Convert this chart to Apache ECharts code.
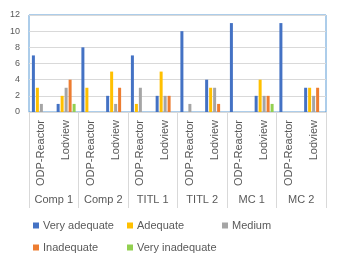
<!DOCTYPE html>
<html>
<head>
<meta charset="utf-8">
<script src="https://cdn.jsdelivr.net/npm/echarts@6/dist/echarts.min.js"></script>
<style>
html,body{margin:0;padding:0;background:#fff;}
#chart{width:341px;height:266px;}
</style>
</head>
<body>
<div id="chart"></div>
<script>
var groups = ['Comp 1', 'Comp 2', 'TITL 1', 'TITL 2', 'MC 1', 'MC 2'];
var tools = ['ODP-Reactor', 'Lodview'];
var subCategories = [];
groups.forEach(function(){ tools.forEach(function(t){ subCategories.push(t); }); });

var seriesNames = ['Very adequate', 'Adequate', 'Medium', 'Inadequate', 'Very inadequate'];
var veryAdequate   = [7, 1, 8, 2, 7, 2, 10, 4, 11, 2, 11, 3];
var adequate       = [3, 2, 3, 5, 1, 5, 0, 3, 0, 4, 0, 3];
var medium         = [1, 3, 0, 1, 3, 2, 1, 3, 0, 2, 0, 2];
var inadequate     = [0, 4, 0, 3, 0, 2, 0, 1, 0, 2, 0, 3];
var veryInadequate = [0, 1, 0, 0, 0, 0, 0, 0, 0, 1, 0, 0];
var yTicks = [0, 2, 4, 6, 8, 10, 12];

var colors = ['#4472C4', '#FFC000', '#A5A5A5', '#ED7D31', '#92D050'];
var values = [veryAdequate, adequate, medium, inadequate, veryInadequate];
var font = 'Liberation Sans, Arial, sans-serif';
var textColor = '#595959';

var series = seriesNames.map(function(n, i){
  return {
    name: n, type: 'bar', data: values[i],
    xAxisIndex: 0, yAxisIndex: 0,
    barWidth: 3, barGap: '33%',
    itemStyle: {color: colors[i]},
    animation: false
  };
});

var legendPos = [
  {left: 33, top: 220},
  {left: 127, top: 220},
  {left: 222, top: 220},
  {left: 33, top: 242},
  {left: 127, top: 242}
];
var legends = seriesNames.map(function(n, i){
  return {
    data: [n], left: legendPos[i].left, top: legendPos[i].top,
    itemWidth: 6, itemHeight: 6, itemGap: 0, icon: 'rect',
    textStyle: {fontSize: 11, color: textColor, fontFamily: font, padding: [0,0,0,-1]},
    selectedMode: false, padding: 0
  };
});

var chart = echarts.init(document.getElementById('chart'), null, {renderer: 'canvas'});
chart.setOption({
  animation: false,
  color: colors,
  grid: {left: 29, right: 15, top: 15, bottom: 154, show: true, borderColor: '#5B9BD5', borderWidth: 1, backgroundColor: 'transparent'},
  legend: legends,
  xAxis: [
    {
      type: 'category', data: subCategories, position: 'bottom',
      axisLine: {show: true, lineStyle: {color: '#D9D9D9', width: 1}},
      axisTick: {show: false},
      axisLabel: {rotate: 90, margin: 8, interval: 0, fontSize: 11, color: textColor, fontFamily: font},
      splitLine: {show: false}
    },
    {
      type: 'category', data: groups, position: 'bottom',
      axisLine: {show: false},
      axisTick: {show: true, length: 96, lineStyle: {color: '#D9D9D9', width: 1}},
      axisLabel: {margin: 82, interval: 0, fontSize: 11, color: textColor, fontFamily: font},
      splitLine: {show: false}
    }
  ],
  yAxis: {
    type: 'value', min: yTicks[0], max: yTicks[yTicks.length-1], interval: 2,
    axisLine: {show: false}, axisTick: {show: false},
    axisLabel: {margin: 9, fontSize: 9, color: textColor, fontFamily: font},
    splitLine: {lineStyle: {color: '#D9D9D9', width: 1}}
  },
  series: series
});
</script>
</body>
</html>
